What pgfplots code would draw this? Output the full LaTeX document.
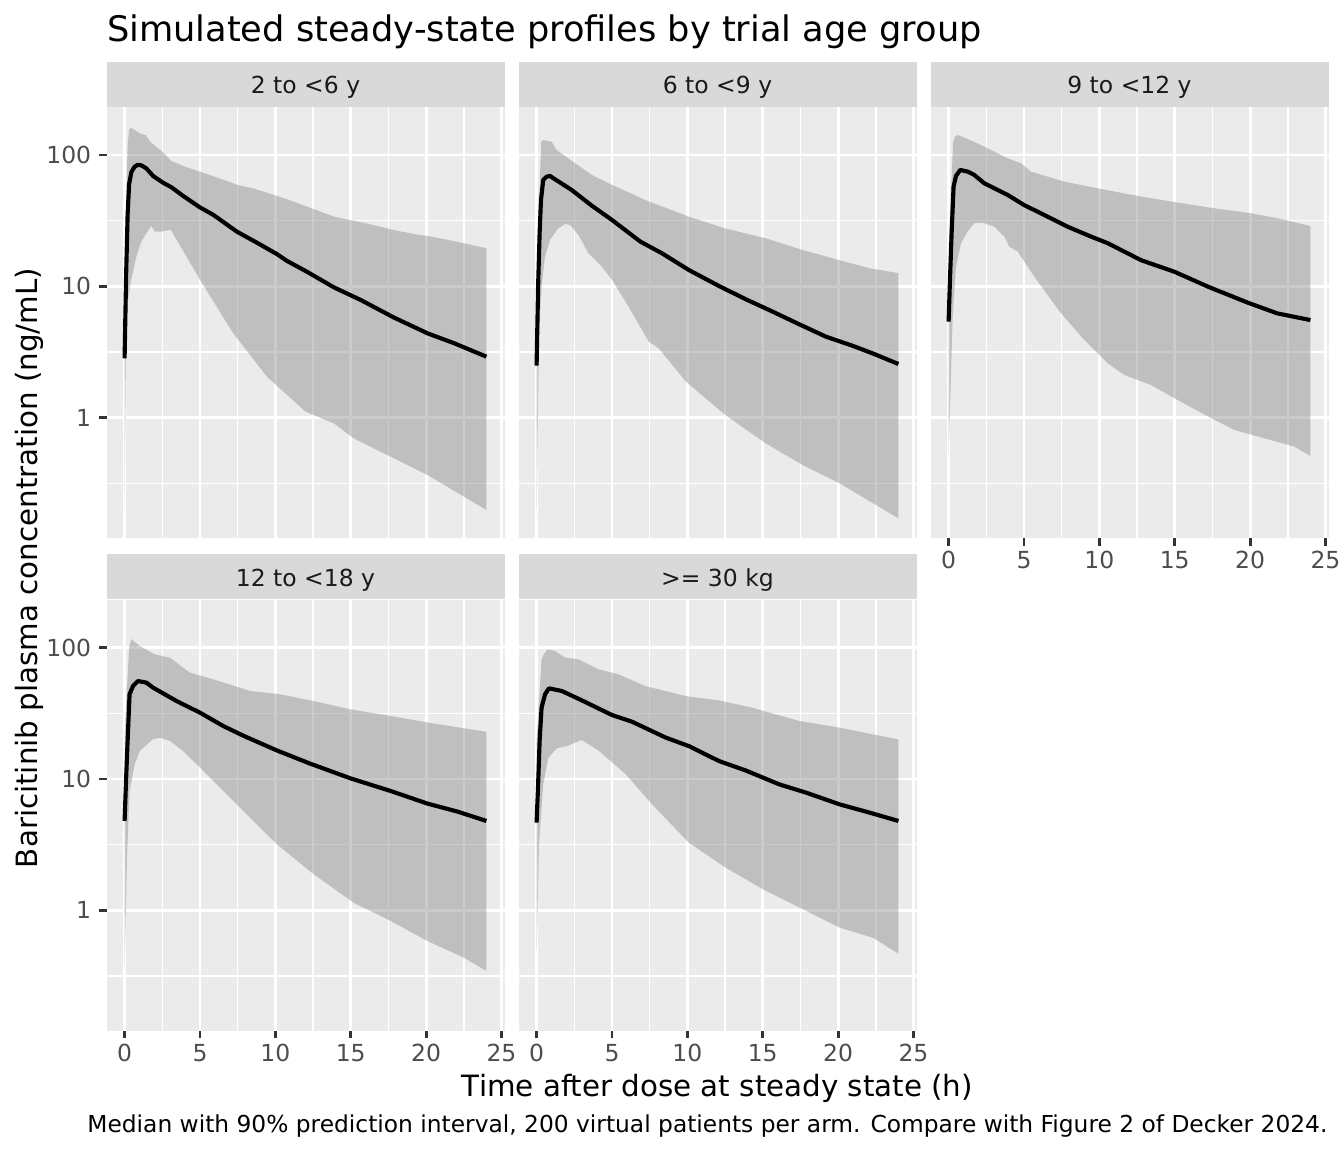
\documentclass[border=0pt]{standalone}
\usepackage{fontspec}
\setmainfont{DejaVu Sans}
\usepackage{pgfplots}
\pgfplotsset{compat=1.18}
\definecolor{panelbg}{RGB}{235,235,235}
\definecolor{stripbg}{RGB}{217,217,217}
\definecolor{gtwenty}{RGB}{51,51,51}
\definecolor{gthirty}{RGB}{77,77,77}
\definecolor{gten}{RGB}{26,26,26}
\definecolor{bandcol}{RGB}{127,127,127}
\pgfplotsset{
 every axis title shift=0pt,
 myfacet/.style={
  scale only axis, width=149.25pt, height=161.625pt,
  xmin=-1.2, xmax=25.2, ymin=0.1205, ymax=230.7,
  axis line style={draw=none},
  axis background/.style={fill=panelbg},
  xtick={0,5,10,15,20,25}, minor xtick={2.5,7.5,12.5,17.5,22.5},
  ytick={1,10,100}, minor ytick={0.316228,3.16228,31.6228},
  xticklabels={0,5,10,15,20,25}, yticklabels={1,10,100},
  grid=both,
  major grid style={white, line width=1.07pt},
  minor grid style={white, line width=0.53pt},
  tick align=outside, major tick length=2.75pt, minor tick length=0pt,
  tick style={gtwenty, line width=1.07pt},
  xtick pos=bottom, ytick pos=left,
  ticklabel style={font=\fontsize{8.8}{10}\selectfont, text=gthirty},
  xticklabel style={inner sep=0pt, yshift=-2pt},
  yticklabel style={inner sep=0pt, xshift=-2.8pt},
  title style={at={(0.5,1)}, anchor=south, yshift=0pt, fill=stripbg,
    minimum width=149.25pt, minimum height=16.875pt, inner sep=0pt,
    text=gten, font=\fontsize{8.8}{10}\selectfont, text height=7.1pt, text depth=0pt},
 },
 mynox/.style={xticklabels={}, xtick style={draw=none}},
 mynoy/.style={yticklabels={}, ytick style={draw=none}},
}
\tikzset{
 myband/.style={fill=bandcol, fill opacity=0.4, draw=none},
 mymed/.style={black, line width=1.55pt, line join=round},
}
\begin{document}
\begin{tikzpicture}
\path[use as bounding box] (0,0) rectangle (504pt,432pt);

% Panel 1
\begin{axis}[ymode=log, myfacet, mynox, at={(39.94pt,230.14pt)}, anchor=south west, title={2 to <6 y}]
\addplot[myband] coordinates {(0,12) (0.2,120) (0.3,155) (0.4,161) (0.6,157) (1.0,146) (1.4,142) (1.7,126) (2.5,106) (3.1,90) (4,81.5) (5,74.6) (6.6,64.5) (7.5,59.1) (8.5,55.8) (10.6,46.8) (12.1,40.4) (13.9,33.9) (16,30.2) (17.8,26.9) (19.5,24.6) (20.1,24.2) (22,21.9) (24,19.5)
 (24,0.198) (20.1,0.365) (17.65,0.504) (15.2,0.695) (13.9,0.90) (12.0,1.11) (9.44,2.05) (7.2,4.39) (5.0,11.2) (3.1,26.5) (3.0,26.9) (2.45,26.1) (2.0,26.1) (1.78,28.8) (1.44,25.3) (1.11,21.9) (0.78,16.8) (0.44,11.2) (0.2,7.5) (0.1,4.0) (0,0.198)};
\addplot[mymed] coordinates {(0,2.83) (0.1,12) (0.2,35) (0.3,60) (0.45,74) (0.65,81) (0.85,84) (1.11,83.4) (1.44,79.1) (1.89,69.2) (2.55,61.5) (3.11,56.7) (3.89,48.7) (5.0,39.9) (5.9,34.9) (7.44,26.1) (8.77,21.5) (10.1,17.6) (10.77,15.6) (12.1,12.9) (13.88,9.82) (15.66,7.87) (17.88,5.77) (20.1,4.38) (21.87,3.68) (24,2.91)};
\end{axis}

% Panel 2
\begin{axis}[ymode=log, myfacet, mynox, mynoy, at={(194.44pt,230.14pt)}, anchor=south west, title={6 to <9 y}]
\addplot[myband] coordinates {(0,10) (0.3,125) (0.44,130) (1.0,126) (1.33,109) (2.55,86.5) (3.66,70.5) (5.0,59.1) (6.0,52.6) (7.2,45.4) (10.1,33.9) (12.5,27.6) (15.2,23.2) (17.65,18.9) (20.1,15.8) (22.1,13.7) (24,12.6)
 (24,0.171) (20.1,0.316) (17.65,0.435) (15.2,0.637) (12.5,1.05) (9.9,1.88) (8.1,3.37) (7.44,3.79) (6.1,7.0) (5.0,11.2) (4.33,14.1) (3.44,17.8) (2.78,24.6) (2.22,29.3) (1.89,29.8) (1.44,27.6) (0.89,22.6) (0.56,16.8) (0.33,9.94) (0.16,4.39) (0,0.171)};
\addplot[mymed] coordinates {(0,2.49) (0.1,10) (0.2,25.3) (0.29,45.4) (0.44,64.6) (0.67,68.4) (0.89,69.2) (1.22,65.3) (2.33,54.1) (3.66,41.1) (5.0,32) (6.88,21.9) (8.33,17.8) (10.1,13.3) (12.1,10.05) (13.88,7.96) (15.66,6.41) (17.43,5.13) (19.2,4.13) (21,3.51) (22.3,3.08) (24,2.56)};
\end{axis}

% Panel 3
\begin{axis}[ymode=log, myfacet, mynoy, at={(348.94pt,230.14pt)}, anchor=south west, title={9 to <12 y}]
\addplot[myband] coordinates {(0,20) (0.3,125) (0.42,138) (0.6,142) (1.7,126) (2.6,112) (3.9,94.4) (4.8,86.5) (5.46,74.7) (7.68,62.6) (9.9,55.7) (12.77,48.2) (15.2,43.4) (17.6,39.3) (20.07,36) (21.8,33) (24,28.8)
 (24,0.51) (22.94,0.601) (20.95,0.695) (18.96,0.805) (17.2,1.02) (15.2,1.36) (13.43,1.77) (11.66,2.11) (10.55,2.59) (9.0,3.9) (7.46,6.22) (5.69,11.8) (4.58,18.4) (4.03,20) (3.7,23.9) (3.03,28.4) (2.26,30.5) (1.7,30.2) (1.26,26.1) (0.82,21.2) (0.49,14.1) (0.27,5.87) (0,0.503)};
\addplot[mymed] coordinates {(0,5.38) (0.1,12) (0.2,25.3) (0.33,57.4) (0.49,69.2) (0.77,76.9) (1.26,74.7) (1.7,70.5) (2.37,60.8) (3.92,49.6) (5.0,41.6) (6.57,33.9) (7.9,28.4) (9.45,23.9) (10.55,21.3) (12.77,15.8) (14.98,12.9) (17.2,9.94) (19.85,7.5) (21.8,6.22) (24,5.53)};
\end{axis}

% Panel 4
\begin{axis}[ymode=log, myfacet, at={(39.94pt,45.375pt)}, anchor=south west, title={12 to <18 y}]
\addplot[myband] coordinates {(0,22) (0.3,100) (0.44,116) (1.0,103) (2.0,89) (3.0,84) (4.33,64.6) (5.9,57.4) (8.33,46.8) (10.3,44.2) (12.5,39.3) (15,33.9) (17.65,30.2) (20.1,26.9) (24,22.9)
 (24,0.345) (22.5,0.436) (20.1,0.583) (17.65,0.83) (15.2,1.14) (12.55,1.88) (10.1,3.18) (7.66,6.05) (6.77,7.64) (5.0,12.2) (3.89,16.3) (3.0,19.5) (2.33,20.6) (1.89,20.1) (1.44,18.1) (1.0,16.3) (0.67,12.9) (0.33,8.1) (0.16,2.52) (0,0.345)};
\addplot[mymed] coordinates {(0,4.79) (0.1,10) (0.2,19.5) (0.33,44.2) (0.56,51.1) (0.89,55.7) (1.44,54.2) (1.89,49.6) (3.44,39.3) (5.0,32) (6.55,25.3) (7.9,21.3) (10.1,16.5) (12.3,13.1) (15,10.1) (17.65,8.1) (20.1,6.49) (22.1,5.64) (24,4.79)};
\end{axis}

% Panel 5
\begin{axis}[ymode=log, myfacet, mynoy, at={(194.44pt,45.375pt)}, anchor=south west, title={>= 30 kg}]
\addplot[myband] coordinates {(0,19.5) (0.33,81.5) (0.5,90) (0.73,97) (1.22,94.4) (1.89,84) (2.78,81.5) (4.1,68.4) (5.44,62.6) (7.2,51) (9.9,42.8) (12.1,39.7) (14.3,34.9) (17.4,27.7) (20.1,24.6) (24,20)
 (24,0.468) (22.3,0.619) (20.1,0.738) (17.43,1.05) (15,1.45) (12.55,2.11) (10.1,3.27) (7.66,6.41) (5.9,10.9) (4.1,16.5) (3.0,19.8) (2.0,17.8) (1.33,17.1) (0.78,14.5) (0.44,9.1) (0.16,3.18) (0,0.462)};
\addplot[mymed] coordinates {(0,4.65) (0.1,9) (0.2,19.5) (0.33,34.9) (0.56,44.2) (0.82,49) (1.67,46.8) (3.0,39.7) (5.0,30.7) (6.33,27.3) (8.55,20.7) (10.1,17.8) (12.1,13.7) (13.88,11.6) (16.1,9.1) (17.88,7.87) (20.1,6.41) (22.1,5.54) (24,4.79)};
\end{axis}

% Texts
\node[anchor=base west, inner sep=0pt, font=\fontsize{13.2}{15}\selectfont] at (39.94pt,416.4pt) {Simulated steady-state profiles by trial age group};
\node[anchor=base, inner sep=0pt, rotate=90, font=\fontsize{11}{13}\selectfont] at (13.9pt,219pt) {Baricitinib plasma concentration (ng/mL)};
\node[anchor=base, inner sep=0pt, font=\fontsize{11}{13}\selectfont] at (269.06pt,21pt) {Time after dose at steady state (h)};
\node[anchor=base east, inner sep=0pt, font=\fontsize{8.75}{10}\selectfont] at (498pt,7.5pt) {Median with 90\% prediction interval, 200 virtual patients per arm. Compare with Figure 2 of Decker 2024.};
\end{tikzpicture}
\end{document}
